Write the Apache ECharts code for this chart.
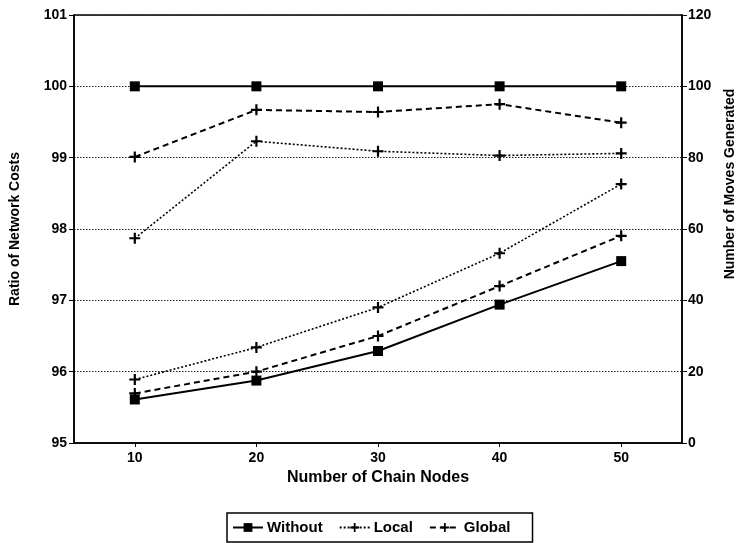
<!DOCTYPE html>
<html>
<head>
<meta charset="utf-8">
<script src="https://cdn.jsdelivr.net/npm/echarts@6/dist/echarts.min.js"></script>
<style>
  html, body { margin: 0; padding: 0; background: #fff; }
  #chart { width: 745px; height: 543px; }
</style>
</head>
<body>
<div id="chart"></div>
<script>
// chain nodes on the x axis
var chainNodes = [10, 20, 30, 40, 50];

// left axis: ratio of network costs
var withoutRatio = [100, 100, 100, 100, 100];
var localRatio = [97.87, 99.23, 99.09, 99.03, 99.06];
var globalRatio = [99.01, 99.67, 99.64, 99.75, 99.49];

// right axis: number of moves generated
var withoutMoves = [12.2, 17.5, 25.8, 38.8, 51.0];
var localMoves = [17.8, 26.8, 38.0, 53.2, 72.6];
var globalMoves = [13.9, 20.0, 30.0, 44.0, 58.1];

var plusIcon = 'path://M4,0L6,0L6,4L10,4L10,6L6,6L6,10L4,10L4,6L0,6L0,4L4,4Z';
var font = 'Liberation Sans';

function pairs(ys) {
  return chainNodes.map(function (x, i) { return [x, ys[i]]; });
}

function makeSeries(name, ys, axis, lineType, width, symbol, size) {
  return {
    name: name,
    type: 'line',
    yAxisIndex: axis,
    data: pairs(ys),
    symbol: symbol,
    symbolSize: size,
    itemStyle: { color: '#000' },
    lineStyle: { color: '#000', width: width, type: lineType },
    animation: false
  };
}

var chart = echarts.init(document.getElementById('chart'));

var option = {
  backgroundColor: '#fff',
  textStyle: { fontFamily: font, color: '#000' },
  grid: {
    left: 73, right: 59, top: 15, bottom: 100,
    show: true, borderColor: '#000', borderWidth: 1.5
  },
  legend: {
    data: ['Without', 'Local', 'Global'],
    left: 227,
    top: 513,
    padding: [7, 22, 7, 5],
    borderColor: '#000',
    borderWidth: 1.5,
    itemGap: 16,
    itemWidth: 30,
    itemHeight: 11,
    textStyle: { fontFamily: font, fontSize: 15, fontWeight: 'bold', color: '#000', padding: [0, 0, 0, -1] }
  },
  xAxis: {
    type: 'value',
    min: 5,
    max: 55,
    name: 'Number of Chain Nodes',
    nameLocation: 'middle',
    nameGap: 27,
    nameTextStyle: { fontFamily: font, fontSize: 16, fontWeight: 'bold', color: '#000' },
    axisLine: { lineStyle: { color: '#000', width: 1.5 } },
    axisTick: { customValues: chainNodes, length: 4, lineStyle: { color: '#000' } },
    axisLabel: {
      customValues: chainNodes,
      color: '#000', fontSize: 14, fontWeight: 'bold', margin: 8
    },
    splitLine: { show: false }
  },
  yAxis: [
    {
      type: 'value',
      min: 95,
      max: 101,
      interval: 1,
      name: 'Ratio of Network Costs',
      nameLocation: 'middle',
      nameRotate: 90,
      nameGap: 52,
      nameTextStyle: { fontFamily: font, fontSize: 14, fontWeight: 'bold', color: '#000' },
      axisLine: { show: true, lineStyle: { color: '#000', width: 1.5 } },
      axisTick: { show: true, length: 5, lineStyle: { color: '#000' } },
      axisLabel: { color: '#000', fontSize: 14, fontWeight: 'bold', margin: 7 },
      splitLine: { show: true, lineStyle: { color: '#222', type: [1.5, 1.5], width: 1 } }
    },
    {
      type: 'value',
      min: 0,
      max: 120,
      interval: 20,
      position: 'right',
      name: 'Number of Moves Generated',
      nameLocation: 'middle',
      nameRotate: 90,
      nameGap: 41,
      // title sits a little above the axis middle in the original
      nameTextStyle: { fontFamily: font, fontSize: 14, fontWeight: 'bold', color: '#000', padding: [0, 0, 0, 90] },
      axisLine: { show: true, lineStyle: { color: '#000', width: 1.5 } },
      axisTick: { show: true, length: 5, lineStyle: { color: '#000' } },
      axisLabel: { color: '#000', fontSize: 14, fontWeight: 'bold', margin: 6 },
      splitLine: { show: false }
    }
  ],
  series: [
    makeSeries('Without', withoutRatio, 0, 'solid', 2, 'rect', 10),
    makeSeries('Local', localRatio, 0, [2, 2], 1.6, plusIcon, 11),
    makeSeries('Global', globalRatio, 0, [6, 4], 2, plusIcon, 11),
    makeSeries('Without', withoutMoves, 1, 'solid', 2, 'rect', 10),
    makeSeries('Local', localMoves, 1, [2, 2], 1.6, plusIcon, 11),
    makeSeries('Global', globalMoves, 1, [6, 4], 2, plusIcon, 11)
  ]
};

chart.setOption(option);
</script>
</body>
</html>
